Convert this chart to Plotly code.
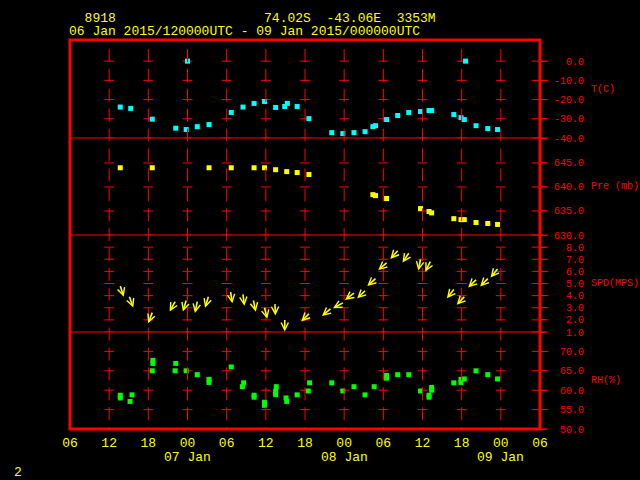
import math
import pandas as pd
import plotly.graph_objects as go

# ---------------- data ----------------
BASE = pd.Timestamp("2015-01-06 06:00")

T_HOURS = [7.7, 9.3, 12.6, 16.2, 17.8, 18.0, 19.5, 21.3, 24.7, 26.5, 28.2, 29.8, 31.5, 32.9, 33.3, 34.8,
           36.6, 40.1, 41.8, 43.5, 45.2, 46.4, 46.8, 48.5, 50.2, 51.9, 53.7, 55.0, 55.4, 58.8, 59.9, 60.4,
           60.6, 62.2, 64.0, 65.5]
T_VALUES = [-23.9, -24.6, -30.2, -34.9, -35.6, 0.0, -34.1, -33.0, -26.7, -23.9, -22.0, -21.0, -24.1, -23.6,
            -22.0, -23.6, -29.9, -37.2, -37.7, -37.2, -36.7, -34.1, -33.6, -30.4, -28.3, -26.7, -26.2, -25.7,
            -25.7, -27.8, -29.4, -30.4, 0.0, -33.6, -35.1, -35.6]

P_HOURS = [7.7, 12.6, 21.3, 24.7, 28.2, 29.8, 31.5, 33.2, 34.8, 36.6, 46.4, 46.8, 48.5, 53.7, 55.0, 55.4,
           58.8, 59.9, 60.4, 62.2, 64.0, 65.5]
P_VALUES = [644.0, 644.0, 644.0, 644.0, 644.0, 644.0, 643.6, 643.2, 643.0, 642.6, 638.4, 638.2, 637.6,
            635.5, 634.9, 634.6, 633.4, 633.2, 633.2, 632.6, 632.4, 632.2]

W_HOURS = [7.7, 9.1, 12.6, 16.1, 17.8, 19.5, 21.2, 24.6, 26.5, 28.1, 29.8, 31.4, 32.9, 36.6, 39.9, 41.8,
           43.5, 45.2, 46.8, 48.5, 50.2, 51.9, 53.7, 55.2, 58.8, 60.4, 62.2, 64.0, 65.5]
W_SPEED = [4.8, 3.9, 2.6, 3.5, 3.6, 3.5, 3.9, 4.3, 4.1, 3.6, 3.0, 3.3, 2.0, 2.5, 2.9, 3.4, 4.2, 4.4, 5.4,
           6.7, 7.7, 7.5, 7.0, 6.8, 4.5, 3.9, 5.3, 5.4, 6.2]
W_DIR = [342, 340, 21, 29, 17, 12, 17, 351, 353, 348, 346, 358, 360, 45, 50, 61, 53, 46, 48, 49, 42, 34,
         11, 27, 39, 44, 46, 44, 39]

RH_HOURS = [7.7, 7.7, 9.5, 9.2, 12.7, 12.7, 12.6, 16.2, 16.1, 17.8, 19.5, 21.3, 21.3, 24.7, 26.6, 26.4,
            28.2, 28.2, 29.8, 29.8, 31.6, 31.5, 31.5, 33.1, 33.2, 34.8, 36.7, 36.5, 40.1, 41.8, 43.5, 45.2,
            46.6, 48.5, 48.5, 50.2, 51.9, 53.7, 55.4, 55.4, 55.0, 55.0, 58.8, 59.9, 59.9, 60.4, 62.2, 64.0,
            65.5]
RH_VALUES = [58.7, 58.0, 58.8, 57.1, 67.7, 66.9, 65.0, 66.9, 65.0, 65.0, 64.0, 62.8, 62.0, 66.0, 61.9,
             60.9, 58.7, 58.2, 56.9, 56.1, 60.9, 59.7, 58.9, 58.0, 57.1, 58.8, 61.9, 59.8, 61.9, 59.8, 60.9,
             58.8, 60.9, 63.8, 63.1, 64.0, 64.0, 59.8, 60.7, 60.0, 58.7, 58.2, 61.9, 62.8, 62.0, 62.9, 65.0,
             64.0, 62.9]

X_TICK_HOURS = [0, 6, 12, 18, 24, 30, 36, 42, 48, 54, 60, 66, 72]
X_TICK_TEXT = ["06", "12", "18", "00", "06", "12", "18", "00", "06", "12", "18", "00", "06"]
DATE_HOURS = [18, 42, 66]
DATE_TEXT = ["07 Jan", "08 Jan", "09 Jan"]

T_TICKS = [0, -10, -20, -30, -40]
P_TICKS = [645, 640, 635, 630]
S_TICKS = [8, 7, 6, 5, 4, 3, 2, 1]
RH_TICKS = [70, 65, 60, 55, 50]

PANEL_TITLES = ["T(C)", "Pre (mb)", "SPD(MPS)", "RH(%)"]
TITLE_LINE1 = "  8918                   74.02S  -43.06E  3353M"
TITLE_LINE2 = "06 Jan 2015/120000UTC - 09 Jan 2015/000000UTC"

# ---------------- style ----------------
RED = "#ff0000"
YEL = "#ffff00"
CYAN = "#00ffff"
GREEN = "#00ff00"
FONT = "Liberation Mono"
W, H = 640, 480
ML, MR, MT, MB = 70, 100, 40, 51
PH = H - MT - MB           # plot height in px
PW = W - ML - MR
panel_px = [98, 97, 97, 97]  # T, Pre, SPD, RH (top to bottom)


def tt(hours):
    return [BASE + pd.Timedelta(hours=h) for h in hours]


def py(ypx):
    """pixel y (from top of page) -> paper y"""
    return (H - MB - ypx) / PH


def px(xpx):
    return (xpx - ML) / PW


# domains, bottom-up
bounds = []
acc = 0
for p in reversed(panel_px):
    bounds.append((acc / PH, (acc + p) / PH))
    acc += p
bounds = list(reversed(bounds))  # T, Pre, SPD, RH

ranges = [[-40, 11], [630, 650.2], [1, 9], [50, 75]]
ticks = [T_TICKS, P_TICKS, S_TICKS, RH_TICKS]
ynames = ["y", "y2", "y3", "y4"]

fig = go.Figure()

interior = tt(X_TICK_HOURS[1:-1])
right_edge = tt([X_TICK_HOURS[-1]])[0]

# tick crosses in each panel
for k in range(4):
    xs, ys = [], []
    for v in ticks[k]:
        for xv in interior:
            xs.append(xv)
            ys.append(v)
    fig.add_trace(go.Scatter(x=xs, y=ys, yaxis=ynames[k], mode="markers", hoverinfo="skip",
                             marker=dict(symbol="line-ew", size=7, line=dict(color=RED, width=1)),
                             showlegend=False))
    fig.add_trace(go.Scatter(x=[right_edge] * len(ticks[k]), y=ticks[k], yaxis=ynames[k],
                             mode="markers", hoverinfo="skip", cliponaxis=False,
                             marker=dict(symbol="line-ew", size=12, line=dict(color=RED, width=1)),
                             showlegend=False))

# data
fig.add_trace(go.Scatter(x=tt(T_HOURS), y=T_VALUES, yaxis="y", mode="markers",
                         marker=dict(symbol="square", size=5, color=CYAN, line=dict(width=0)),
                         showlegend=False))
fig.add_trace(go.Scatter(x=tt(P_HOURS), y=P_VALUES, yaxis="y2", mode="markers",
                         marker=dict(symbol="square", size=5, color=YEL, line=dict(width=0)),
                         showlegend=False))
fig.add_trace(go.Scatter(x=tt(RH_HOURS), y=RH_VALUES, yaxis="y4", mode="markers",
                         marker=dict(symbol="square", size=5, color=GREEN, line=dict(width=0)),
                         showlegend=False))

# wind arrows: tail at (time, speed), pointing downwind
ARROW_LEN = 13
annotations = []
for h, s, d in zip(tt(W_HOURS), W_SPEED, W_DIR):
    to = math.radians((d + 180) % 360)
    ax = ARROW_LEN * math.sin(to)
    ay = -ARROW_LEN * math.cos(to)
    annotations.append(dict(x=h, y=s, xref="x", yref="y3", text="", showarrow=True,
                            ax=ax, ay=ay, arrowside="start", startarrowhead=5, startarrowsize=0.9,
                            arrowwidth=1.6, arrowcolor=YEL, startstandoff=0, standoff=0))

# titles
annotations.append(dict(x=px(66.5), y=py(18), xref="paper", yref="paper", xanchor="left", yanchor="middle",
                        text=TITLE_LINE1.replace(" ", "\u00a0"), showarrow=False,
                        font=dict(family=FONT, size=13, color=YEL)))
annotations.append(dict(x=px(66.5), y=py(31), xref="paper", yref="paper", xanchor="left", yanchor="middle",
                        text=TITLE_LINE2.replace(" ", "\u00a0"), showarrow=False,
                        font=dict(family=FONT, size=13, color=YEL)))
for h, txt in zip(tt(DATE_HOURS), DATE_TEXT):
    annotations.append(dict(x=h, y=py(457), xref="x", yref="paper", xanchor="center", yanchor="middle",
                            text=txt.replace(" ", "\u00a0"), showarrow=False,
                            font=dict(family=FONT, size=13, color=YEL)))
annotations.append(dict(x=px(18), y=py(472), xref="paper", yref="paper", xanchor="center", yanchor="middle",
                        text="2", showarrow=False, font=dict(family=FONT, size=13, color=YEL)))
title_y = [-14.5, 640, 5, 62.4]
for k in range(4):
    annotations.append(dict(x=px(589), y=title_y[k], xref="paper", yref=ynames[k], xanchor="left",
                            yanchor="middle", text=PANEL_TITLES[k].replace(" ", "\u00a0"), showarrow=False,
                            font=dict(family=FONT, size=10, color=RED)))

# shapes
shapes = []
for xv in interior:
    shapes.append(dict(type="line", xref="x", yref="paper", x0=xv, x1=xv, y0=py(49), y1=0,
                       line=dict(color=RED, width=1, dash="13px,6.9px"), layer="above"))
for k in range(3):
    yb = bounds[k][0]
    shapes.append(dict(type="line", xref="paper", yref="paper", x0=0, x1=1, y0=yb, y1=yb,
                       line=dict(color=RED, width=1)))
shapes.append(dict(type="rect", xref="paper", yref="paper", x0=0, x1=1, y0=0, y1=1,
                   line=dict(color=RED, width=3)))


def fmt(v):
    return ("%.1f" % v).rjust(5).replace(" ", "\u00a0")


layout = dict(
    width=W, height=H,
    margin=dict(l=ML, r=MR, t=MT, b=MB, pad=0),
    paper_bgcolor="black", plot_bgcolor="rgba(0,0,0,0)",
    showlegend=False,
    xaxis=dict(type="date", range=[BASE, BASE + pd.Timedelta(hours=72)], anchor="y4",
               tickmode="array", tickvals=tt(X_TICK_HOURS), ticktext=X_TICK_TEXT,
               tickfont=dict(family=FONT, size=13, color=YEL), ticks="outside", ticklen=1,
               tickcolor="rgba(0,0,0,0)", showgrid=False, zeroline=False, showline=False),
    annotations=annotations, shapes=shapes,
)
for k in range(4):
    key = "yaxis" if k == 0 else "yaxis%d" % (k + 1)
    layout[key] = dict(domain=list(bounds[k]), range=ranges[k], anchor="x", side="right",
                       tickmode="array", tickvals=ticks[k], ticktext=[fmt(v) for v in ticks[k]],
                       tickfont=dict(family=FONT, size=10, color=RED), ticks="outside", ticklen=5,
                       tickcolor=RED, tickwidth=1, ticklabelstandoff=6,
                       showgrid=False, zeroline=False, showline=False)
fig.update_layout(**layout)
fig.write_html("out.html",
               config={"displayModeBar": False, "staticPlot": True},
               post_script="document.body.style.margin='0';document.body.style.padding='0';"
                           "document.body.style.background='black';")
